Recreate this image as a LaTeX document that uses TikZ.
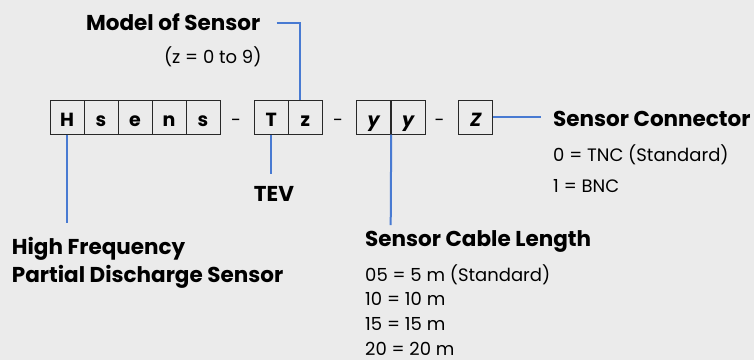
\documentclass[tikz,border=0pt]{standalone}
\usepackage{fontspec}
\setmainfont{Poppins}
\definecolor{bg}{RGB}{235,235,235}
\definecolor{lead}{RGB}{72,122,210}
\definecolor{frame}{RGB}{40,40,40}

\begin{document}
\begin{tikzpicture}[x=1pt,y=-1pt]

      \useasboundingbox[fill=bg] (0,0) rectangle (754,360);

      % code boxes
      \begin{scope}[every node/.style={draw=frame, line width=1pt, minimum width=34pt, minimum height=34pt,
          inner sep=0pt, text height=18pt, text depth=0pt, font=\fontsize{19}{22}\selectfont\bfseries}]
        \node (h)  at (67,117)    {H};
        \node (s1) at (101,117)   {s};
        \node (e)  at (135,117)   {e};
        \node (n)  at (169,117)   {n};
        \node (s2) at (203,117)   {s};
        \node (t)  at (271.3,117) {T};
        \node (z)  at (305.3,117) {z};
        \node (y1) at (373.7,117) {\itshape y};
        \node (y2) at (408.2,117) {\itshape y};
        \node (c)  at (475.8,117) {\itshape Z};
      \end{scope}

      % separators
      \begin{scope}[every node/.style={anchor=base, font=\fontsize{18}{21}\selectfont}]
        \node (d1) at (236,126) {-};
        \node (d2) at (338,126) {-};
        \node (d3) at (439.5,126) {-};
      \end{scope}

      % labels
      \begin{scope}[every node/.style={anchor=base west, inner sep=0pt, font=\fontsize{18}{21}\selectfont},
          head/.style={font=\fontsize{21.5}{25}\selectfont\bfseries}]
        \node[head] (model) at (86,30) {Model of Sensor};
        \node[anchor=base east] (range) at (261.7,63.3) {(z = 0 to 9)};
        \node[head, anchor=base] (tev) at (274,201.7) {TEV};
        \node[head] (hf1) at (11.7,254) {High Frequency};
        \node[head] (hf2) at (11.7,282.7) {Partial Discharge Sensor};
        \node[head] (cable) at (365,246.7) {Sensor Cable Length};
        \node (l05) at (365,281)   {05 = 5 m (Standard)};
        \node (l10) at (365,305.7) {10 = 10 m};
        \node (l15) at (365,330.7) {15 = 15 m};
        \node (l20) at (365,355)   {20 = 20 m};
        \node[head] (conn) at (553,126.7) {Sensor Connector};
        \node (tnc) at (553,161.7) {0 = TNC (Standard)};
        \node (bnc) at (553,192.7) {1 = BNC};
      \end{scope}

      % leader lines
      \coordinate (modelend) at (276.7,23.3);
      \coordinate (hend)     at (67,223.3);
      \coordinate (tend)     at (271.3,174.3);
      \coordinate (yend)     at (390.7,225);
      \coordinate (cend)     at (540.7,117);

      \begin{scope}[every path/.style={draw=lead, line width=2pt}]
        \path (modelend) -| ([xshift=-5.6pt]z.north);
        \path (h.south) -- (hend);
        \path (t.south) -- (tend);
        \path (y1.south east) -- (yend);
        \path (c.east) -- (cend);
      \end{scope}

    \end{tikzpicture}
\end{document}
